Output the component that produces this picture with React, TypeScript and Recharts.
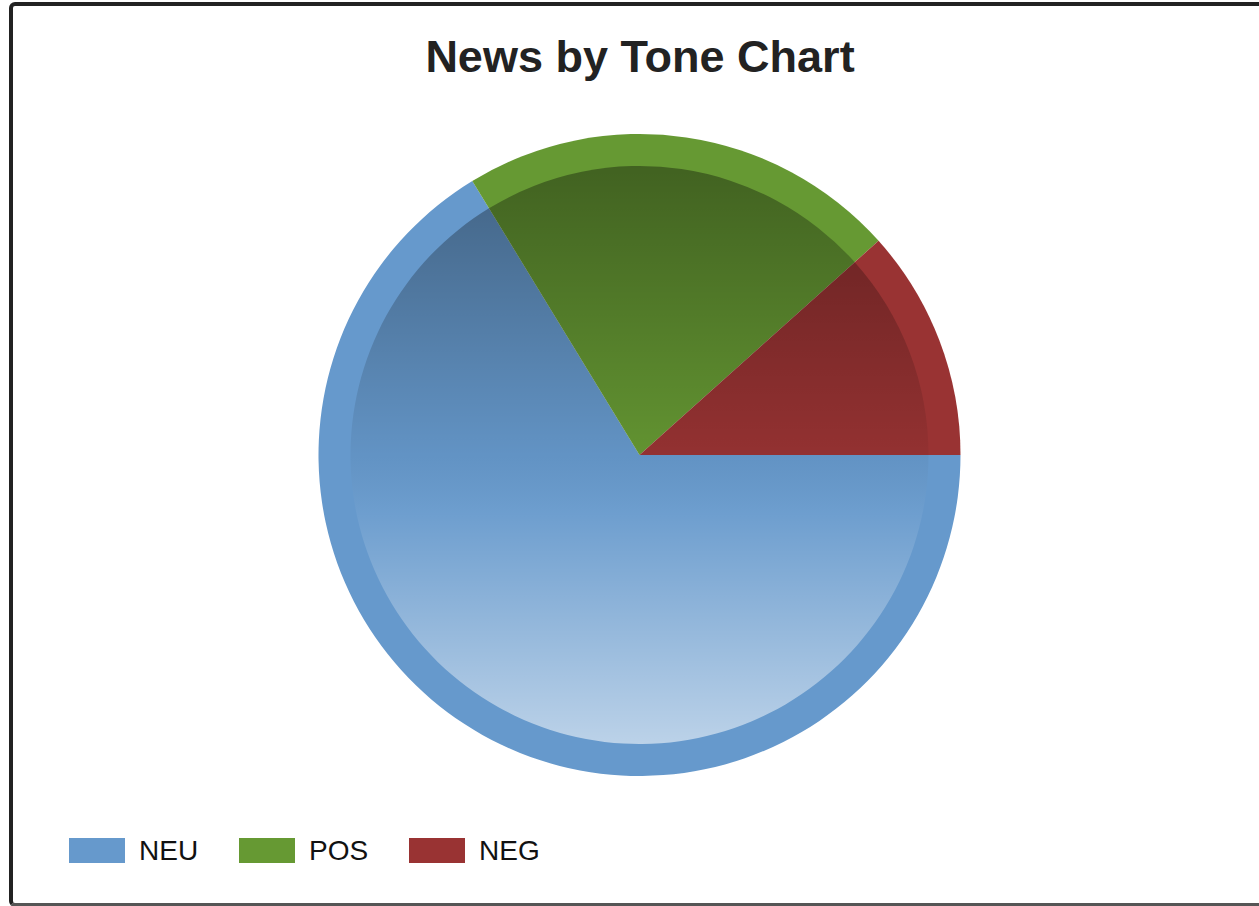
import React from 'react';
import { PieChart, Pie, Cell } from 'recharts';

// tone categories and article counts
const tones = ['NEU', 'POS', 'NEG'];
const counts = [57, 19, 10];
const toneColors = ['#6699cc', '#669933', '#993333'];

const chartData = tones.map((name, i) => ({ name, value: counts[i] }));

const FONT = '"Liberation Sans", Arial, sans-serif';

export default function App() {
  return (
    <div style={{ position: 'fixed', left: 0, top: 0, width: 1259, height: 906, overflow: 'hidden', background: '#fff' }}>
      {/* frame */}
      <div
        style={{
          position: 'absolute',
          left: 9,
          top: 2,
          width: 1300,
          height: 905,
          boxSizing: 'border-box',
          border: '4px solid #222',
          borderBottomColor: '#555',
          borderRadius: 6
        }}
      />

      <div
        style={{
          position: 'absolute',
          left: 0,
          top: 31,
          width: 1280,
          textAlign: 'center',
          fontFamily: FONT,
          fontWeight: 'bold',
          fontSize: 45,
          lineHeight: '52px',
          color: '#222'
        }}
      >
        News by Tone Chart
      </div>

      <div style={{ position: 'absolute', left: 0, top: 0 }}>
        <PieChart width={1259} height={906} margin={{ top: 0, right: 0, bottom: 0, left: 0 }}>
          <defs>
            <linearGradient id="shade" gradientUnits="userSpaceOnUse" x1={0} y1={166} x2={0} y2={744}>
              <stop offset="0" stopColor="#000" stopOpacity={0.36} />
              <stop offset="0.5" stopColor="#000" stopOpacity={0.04} />
              <stop offset="0.6" stopColor="#fff" stopOpacity={0.05} />
              <stop offset="1" stopColor="#fff" stopOpacity={0.56} />
            </linearGradient>
          </defs>
          {/* outer ring / base slices */}
          <Pie
            data={chartData}
            dataKey="value"
            nameKey="name"
            cx={639.5}
            cy={455}
            outerRadius={321}
            startAngle={0}
            endAngle={-360}
            stroke="none"
            isAnimationActive={false}
          >
            {chartData.map((d, i) => (
              <Cell key={d.name} fill={toneColors[i]} />
            ))}
          </Pie>
          {/* inner shaded disc */}
          <Pie
            data={chartData}
            dataKey="value"
            nameKey="name"
            cx={639.5}
            cy={455}
            outerRadius={289}
            startAngle={0}
            endAngle={-360}
            stroke="none"
            isAnimationActive={false}
          >
            {chartData.map((d) => (
              <Cell key={d.name} fill="url(#shade)" />
            ))}
          </Pie>
        </PieChart>
      </div>

      {/* legend */}
      <div style={{ position: 'absolute', left: 69, top: 838, display: 'flex', fontFamily: FONT, fontSize: 28, color: '#111' }}>
        {tones.map((t, i) => (
          <div key={t} style={{ width: 170, display: 'flex', alignItems: 'center' }}>
            <span style={{ display: 'inline-block', width: 56, height: 25, background: toneColors[i], marginRight: 14 }} />
            <span style={{ lineHeight: '25px' }}>{t}</span>
          </div>
        ))}
      </div>
    </div>
  );
}
